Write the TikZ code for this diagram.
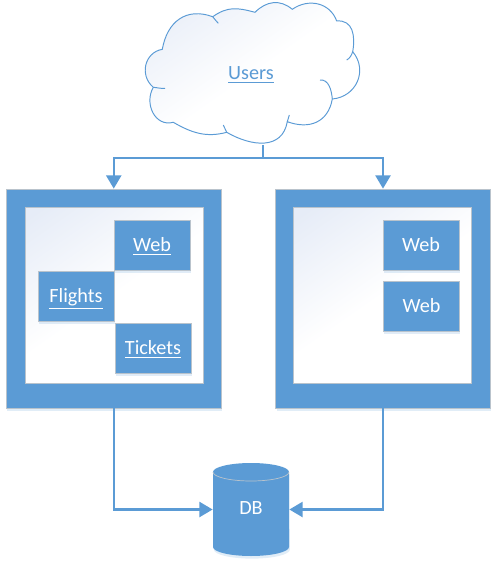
\documentclass[tikz,border=0pt]{standalone}
\usepackage{fontspec}
\setmainfont{Carlito}
\usetikzlibrary{positioning,calc,arrows.meta,shapes.geometric,shadows}
\definecolor{officeblue}{HTML}{5B9BD5}
\definecolor{paleblue}{HTML}{E6ECF7}
\definecolor{rimgrey}{HTML}{B9C3CC}
\pgfdeclareverticalshading{paleglow}{100bp}{color(0bp)=(white); color(50bp)=(white); color(82bp)=(paleblue); color(100bp)=(paleblue)}
\tikzset{
  softshadow/.style={drop shadow={shadow xshift=0.5pt,shadow yshift=-1.5pt,fill=officeblue,opacity=0.18}},
  paletext/.style={font=\fontsize{11.5}{14}\selectfont,text height=8.5pt,text depth=1.3pt},
  outerbox/.style={draw=rimgrey,line width=0.4pt,fill=officeblue,minimum width=214.5*0.02cm,minimum height=219*0.02cm,inner sep=0pt,softshadow},
  innerbox/.style={draw=rimgrey,line width=0.4pt,minimum width=178*0.02cm,minimum height=176*0.02cm,inner sep=0pt,shading=paleglow,shading angle=35},
  appbox/.style={draw=rimgrey,line width=0.4pt,fill=officeblue,text=white,minimum width=76*0.02cm,minimum height=50*0.02cm,inner sep=0pt,paletext,softshadow},
  flow/.style={draw=officeblue,line width=1.25pt,-{Triangle[length=7.5pt,width=8.5pt]}},
  cloudline/.style={draw=officeblue,line width=0.55pt}
}
\begin{document}
\begin{tikzpicture}[x=0.02cm,y=-0.02cm]
    \useasboundingbox (0,0) rectangle (498,578);

    % cloud
    \path [cloudline,shading=paleglow,shading angle=35]
      (162.3,49.3)
      to [out=80, in=160, looseness=1.2] (212.7,16.7)
      to [out=35, in=165, looseness=1.1] (255,12.3)
      to [out=45, in=140, looseness=1.1] (292.3,9.3)
      to [out=35, in=110, looseness=1.1] (336.7,21)
      to [out=5, in=80, looseness=1.2] (352.7,51.7)
      to [out=-50, in=5, looseness=1.2] (332.3,99)
      to [out=-100, in=-20, looseness=1.2] (287.3,121.7)
      to [out=-100, in=-30, looseness=1.2] (226.7,132.3)
      to [out=195, in=-30] (173.3,122.3)
      to [out=195, in=-120, looseness=1.2] (153.3,87.3)
      to [out=140, in=190, looseness=1.2] (162.3,49.3)
      -- cycle;
    \draw [cloudline] (212.7,16.7) to [out=-30, in=155] (218.3,23.3);
    \draw [cloudline] (352.7,51.7) to [out=-110, in=30] (346.7,60);
    \draw [cloudline] (320,80) to [out=5, in=95] (332.3,99);
    \draw [cloudline] (287.3,121.7) to [out=75, in=-95] (289.3,115);
    \draw [cloudline] (226.7,132.3) to [out=120, in=-70] (223.3,125);
    \draw [cloudline] (153.3,87.3) to [out=-5, in=185] (165,88.3);
    \node [paletext,text=officeblue] (users) at (251,73) {\underline{Users}};
    \coordinate (cloudout) at (263,145);
    \coordinate (split) at (263,158);

    % services
    \node [outerbox] (leftserver) at (113.75,298.5) {};
    \node [outerbox] (rightserver) at (383,298.5) {};
    \node [innerbox] at (114,295) {};
    \node [innerbox] at (382.75,295) {};
    \node [appbox] (webleft) at (152,245) {\underline{Web}};
    \node [appbox] (flights) at (76,296.5) {\underline{Flights}};
    \node [appbox] (tickets) at (153,348) {\underline{Tickets}};
    \node [appbox] (webone) at (421,245) {Web};
    \node [appbox] (webtwo) at (421.5,306.5) {Web};

    % database
    \path [fill=officeblue,softshadow]
      (213,472) arc [start angle=180, end angle=0, x radius=0.76cm, y radius=0.18cm]
      -- (289,547) arc [start angle=0, end angle=-180, x radius=0.76cm, y radius=0.18cm]
      -- cycle;
    \draw [rimgrey,line width=0.4pt] (213,472) arc [start angle=180, end angle=360, x radius=0.76cm, y radius=0.18cm];
    \node [paletext,text height=8pt,text depth=2.5pt,text=white,minimum width=76*0.02cm,minimum height=93*0.02cm,inner sep=0pt] (db) at (251,509.5) {DB};

    % connectors
    \draw [draw=officeblue,line width=1.6pt] (cloudout) -- (split);
    \draw [flow] (split) -| (leftserver.north);
    \draw [flow] (split) -| (rightserver.north);
    \draw [flow] (leftserver.south) |- (db.west);
    \draw [flow] (rightserver.south) |- (db.east);
\end{tikzpicture}
\end{document}
